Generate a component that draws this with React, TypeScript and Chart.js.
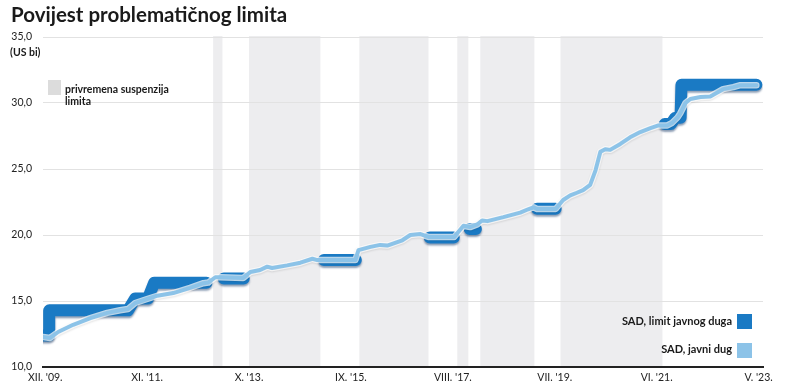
import React, { useEffect, useRef } from "react";
import { Chart, registerables } from "chart.js";

Chart.register(...registerables);

// x values are months counted from December 2009 (0 = XII. '09.)
const tickMonths = [0, 23, 46, 69, 92, 115, 138, 161];
const tickLabels = ["XII. '09.", "XI. '11.", "X. '13.", "IX. '15.", "VIII. '17.", "VII. '19.", "VI. '21.", "V. '23."];

const suspensionStart = [37.9, 46.0, 70.9, 93.0, 98.2, 116.3];
const suspensionEnd = [40.0, 62.1, 86.5, 95.5, 110.4, 139.3];

const debtMonths = [
  -0.5, 1.1, 2.9, 6.3, 10.2, 14, 16.9, 18.7, 20.3, 23, 25.3, 28.9, 32.7, 35.7, 36.8, 38.4, 39.5, 44.7,
  46.3, 48.5, 50.1, 51.2, 54.6, 57.6, 60.3, 61.4, 70, 70.7, 73.4, 75.6, 77.2, 80.6, 82.4, 84.7, 86.5,
  92.3, 94.4, 95.9, 97.5, 98.6, 99.8, 103.4, 107.2, 109, 110.2, 111, 115.2, 116.9, 118.5, 120, 121.4,
  123, 124.2, 125.3, 126.4, 127.5, 129.8, 132, 134.3, 136.6, 138.4, 140.4, 141.5, 142.7, 143.3, 144.5,
  145.6, 147.9, 150.1, 151.7, 153, 155.3, 156.9, 160.5,
];
const debtValues = [
  12.27, 12.2, 12.65, 13.2, 13.7, 14.1, 14.3, 14.4, 14.85, 15.15, 15.4, 15.6, 16.0, 16.35, 16.4, 16.8, 16.8, 16.75,
  17.2, 17.35, 17.6, 17.5, 17.7, 17.9, 18.2, 18.1, 18.1, 18.85, 19.1, 19.25, 19.2, 19.6, 20.0, 20.07, 19.85,
  19.85, 20.7, 20.6, 20.8, 21.1, 21.05, 21.35, 21.7, 21.95, 22.1, 21.97, 21.97, 22.65, 23.0, 23.2, 23.4,
  23.8, 24.9, 26.3, 26.5, 26.45, 26.9, 27.4, 27.8, 28.1, 28.3, 28.3, 28.5, 28.9, 29.2, 30.0,
  30.3, 30.45, 30.5, 30.8, 31.05, 31.2, 31.35, 31.35,
];

const limitMonths = [
  -0.5, 0.9, 0.9, 18.7, 20.3, 23.2, 24.6, 36.4, 38,
  40.3, 44.8, 46,
  62.9, 70.1, 71,
  86.8, 92.2, 93,
  95.8, 97.2, 98,
  111, 115.2, 116,
  139.8, 141.2, 142.2, 143.4, 143.6, 160.5,
];
const limitValues = [
  12.39, 12.39, 14.29, 14.29, 15.19, 15.19, 16.39, 16.39, null,
  16.7, 16.7, null,
  18.11, 18.11, null,
  19.81, 19.81, null,
  20.46, 20.46, null,
  21.99, 21.99, null,
  28.4, 28.4, 28.88, 28.88, 31.38, 31.38,
];

const DARK = "#1a7ac4";
const LIGHT = "#8cc3e8";
const BAND = "#ededef";
const FONT = "Lato";

const bandsPlugin = {
  id: "bands",
  beforeDraw(chart: any) {
    const { ctx, chartArea, scales } = chart;
    const x = scales.x;
    ctx.save();
    ctx.fillStyle = BAND;
    suspensionStart.forEach((s, i) => {
      const x0 = x.getPixelForValue(s);
      const x1 = x.getPixelForValue(suspensionEnd[i]);
      ctx.fillRect(x0, chartArea.top - 1, x1 - x0, chartArea.bottom - chartArea.top + 1);
    });
    ctx.restore();
  },
};

const shadowPlugin = {
  id: "shadows",
  beforeDatasetDraw(chart: any, args: any) {
    const ctx = chart.ctx;
    ctx.save();
    if (args.index === 2) {
      ctx.shadowColor = "rgba(0, 40, 90, 0.45)";
      ctx.shadowOffsetY = 2;
      ctx.shadowBlur = 2;
    } else if (args.index === 1) {
      ctx.shadowColor = "rgba(0, 0, 0, 0.15)";
      ctx.shadowOffsetY = 1;
      ctx.shadowBlur = 2;
    }
  },
  afterDatasetDraw(chart: any) {
    chart.ctx.restore();
  },
};

const textPlugin = {
  id: "texts",
  afterDraw(chart: any) {
    const ctx = chart.ctx;
    ctx.save();
    ctx.fillStyle = "#1a1a1a";
    ctx.textBaseline = "alphabetic";
    ctx.textAlign = "left";
    ctx.font = `bold 20.5px ${FONT}`;
    ctx.fillText("Povijest problematičnog limita", 11, 22);
    ctx.font = `bold 10.5px ${FONT}`;
    ctx.fillText("(US bi)", 10, 56);

    ctx.fillStyle = "#dcdcdc";
    ctx.fillRect(48, 80, 13, 15);
    ctx.fillStyle = "#1a1a1a";
    ctx.font = `bold 10.5px ${FONT}`;
    ctx.fillText("privremena suspenzija", 65, 92.5);
    ctx.fillText("limita", 65, 104.5);

    ctx.font = `bold 11px ${FONT}`;
    ctx.textAlign = "right";
    ctx.fillText("SAD, limit javnog duga", 732, 325);
    ctx.fillText("SAD, javni dug", 732, 353);
    ctx.fillStyle = DARK;
    ctx.fillRect(737, 314, 15, 15);
    ctx.fillStyle = LIGHT;
    ctx.fillRect(737, 343, 15, 15);
    ctx.restore();
  },
};

export default function App() {
  const ref = useRef<HTMLCanvasElement | null>(null);

  useEffect(() => {
    document.body.style.margin = "0";
    const canvas = ref.current;
    if (!canvas) return;
    const debtPoints = debtMonths.map((m, i) => ({ x: m, y: debtValues[i] }));
    const limitPoints = limitMonths.map((m, i) => ({ x: m, y: limitValues[i] }));

    const chart = new Chart(canvas, {
      type: "line",
      data: {
        datasets: [
          {
            label: "SAD, javni dug",
            data: debtPoints,
            borderColor: LIGHT,
            borderWidth: 4,
            pointRadius: 0,
            tension: 0,
            borderCapStyle: "round",
            borderJoinStyle: "round",
            clip: 0,
          },
          {
            label: "outline",
            data: debtPoints,
            borderColor: "rgba(255,255,255,0.7)",
            borderWidth: 6.5,
            pointRadius: 0,
            tension: 0,
            borderCapStyle: "round",
            borderJoinStyle: "round",
            clip: 0,
          },
          {
            label: "SAD, limit javnog duga",
            data: limitPoints,
            borderColor: DARK,
            borderWidth: 12,
            pointRadius: 0,
            tension: 0,
            spanGaps: false,
            borderCapStyle: "round",
            borderJoinStyle: "round",
            clip: 0,
          },
        ],
      },
      options: {
        responsive: false,
        animation: false,
        events: [],
        layout: { padding: { top: 37, right: 37, left: 0, bottom: 0 } },
        plugins: {
          legend: { display: false },
          tooltip: { enabled: false },
          title: { display: false },
        },
        scales: {
          x: {
            type: "linear",
            min: -0.5,
            max: 162,
            afterFit: (scale: any) => {
              scale.height = 19;
            },
            afterBuildTicks: (scale: any) => {
              scale.ticks = tickMonths.map((v) => ({ value: v }));
            },
            ticks: {
              autoSkip: false,
              maxRotation: 0,
              padding: 4,
              color: "#222",
              font: { family: FONT, size: 10.5 },
              callback: (value: any) => {
                const i = tickMonths.indexOf(Number(value));
                return i >= 0 ? tickLabels[i] : "";
              },
            },
            grid: { display: false, drawTicks: false },
            border: { display: true, color: "#222", width: 2 },
          },
          y: {
            type: "linear",
            min: 10,
            max: 35,
            afterFit: (scale: any) => {
              scale.width = 43;
            },
            ticks: {
              stepSize: 5,
              padding: 11,
              color: "#222",
              font: { family: FONT, size: 10.5 },
              callback: (value: any) => Number(value).toFixed(1).replace(".", ","),
            },
            grid: {
              color: (c: any) => (c.tick && c.tick.value === 10 ? "rgba(0,0,0,0)" : "#e2e2e2"),
              lineWidth: 1,
              drawTicks: false,
            },
            border: { display: false },
          },
        },
      },
      plugins: [bandsPlugin, shadowPlugin, textPlugin],
    });
    return () => chart.destroy();
  }, []);

  return (
    <div style={{ width: 800, height: 386, position: "relative" }}>
      <canvas ref={ref} width={800} height={386} style={{ display: "block" }} />
    </div>
  );
}
